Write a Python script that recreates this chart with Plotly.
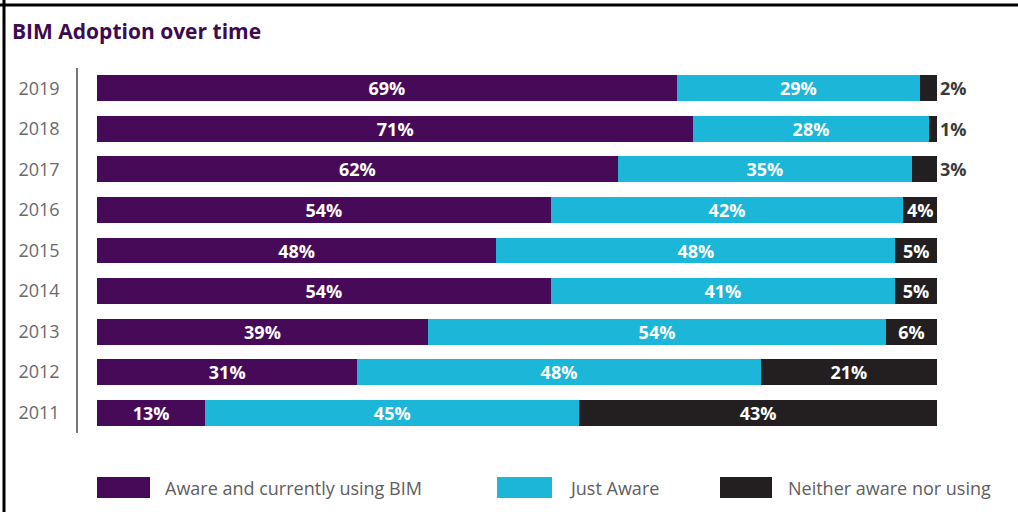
import plotly.graph_objects as go

years = ["2019", "2018", "2017", "2016", "2015", "2014", "2013", "2012", "2011"]
using_bim = [69, 71, 62, 54, 48, 54, 39, 31, 13]
just_aware = [29, 28, 35, 42, 48, 41, 54, 48, 45]
neither = [2, 1, 3, 4, 5, 5, 6, 21, 43]

series_names = ["Aware and currently using BIM", "Just Aware", "Neither aware nor using"]
colors = ["#470a58", "#1bb6d8", "#231f20"]

W, H = 1018, 512
L, R, T, B = 78, 937, 68, 433

totals = [a + b + c for a, b, c in zip(using_bim, just_aware, neither)]
def norm(vals):
    return [v / t * 100 for v, t in zip(vals, totals)]

fig = go.Figure()
for vals, name, col in zip([using_bim, just_aware, neither], series_names, colors):
    is_last = name == series_names[-1]
    positions = ["outside" if (is_last and v <= 3) else "inside" for v in vals]
    fig.add_trace(go.Bar(
        y=years, x=norm(vals), orientation="h", name=name,
        marker=dict(color=col, line=dict(width=0)),
        text=[f"{v}%" for v in vals],
        texttemplate="<b>%{text}</b>",
        textposition=positions,
        insidetextanchor="middle",
        insidetextfont=dict(color="white", size=18, family="Open Sans"),
        outsidetextfont=dict(color="#3a3a3a", size=18, family="Open Sans"),
        constraintext="none",
        cliponaxis=False,
        showlegend=False,
        hoverinfo="skip",
    ))

fig.update_layout(
    width=W, height=H,
    margin=dict(l=L, r=W - R, t=T, b=H - B, pad=0),
    barmode="stack",
    bargap=0.36,
    plot_bgcolor="white", paper_bgcolor="white",
    font=dict(family="Open Sans", color="#555"),
    xaxis=dict(range=[-19 / 8.4, 100], visible=False, fixedrange=True),
    yaxis=dict(categoryorder="array", categoryarray=years[::-1],
               showline=True, linecolor="#777", linewidth=1.5,
               showgrid=False, zeroline=False, ticks="",
               ticklabelstandoff=13,
               tickfont=dict(size=18, color="#6a6a6a", family="Open Sans")),
)

def px(x):
    return (x - L) / (R - L)
def py(y):
    return (B - y) / (B - T)

shapes = []
# frame lines (top and left)
shapes.append(dict(type="line", xref="paper", yref="paper", x0=px(0), x1=px(W), y0=py(5), y1=py(5),
                   line=dict(color="black", width=3)))
shapes.append(dict(type="line", xref="paper", yref="paper", x0=px(4), x1=px(4), y0=py(0), y1=py(H),
                   line=dict(color="black", width=3)))

legend_boxes = [(97, 150), (497, 552), (720, 772)]
legend_text_x = [163, 567, 786]
annotations = []
for (x0, x1), tx, name, col in zip(legend_boxes, legend_text_x, series_names, colors):
    shapes.append(dict(type="rect", xref="paper", yref="paper", x0=px(x0), x1=px(x1),
                       y0=py(498), y1=py(477), fillcolor=col, line=dict(width=0)))
    annotations.append(dict(xref="paper", yref="paper", x=px(tx), y=py(488), text=name,
                            showarrow=False, xanchor="left", yanchor="middle",
                            font=dict(size=18, color="#5e5e5e", family="Open Sans")))

annotations.append(dict(xref="paper", yref="paper", x=px(10), y=py(31), text="<b>BIM Adoption over time</b>",
                        showarrow=False, xanchor="left", yanchor="middle",
                        font=dict(size=21, color="#3d0a4f", family="Open Sans")))

fig.update_layout(shapes=shapes, annotations=annotations)
fig.write_html("out.html")
